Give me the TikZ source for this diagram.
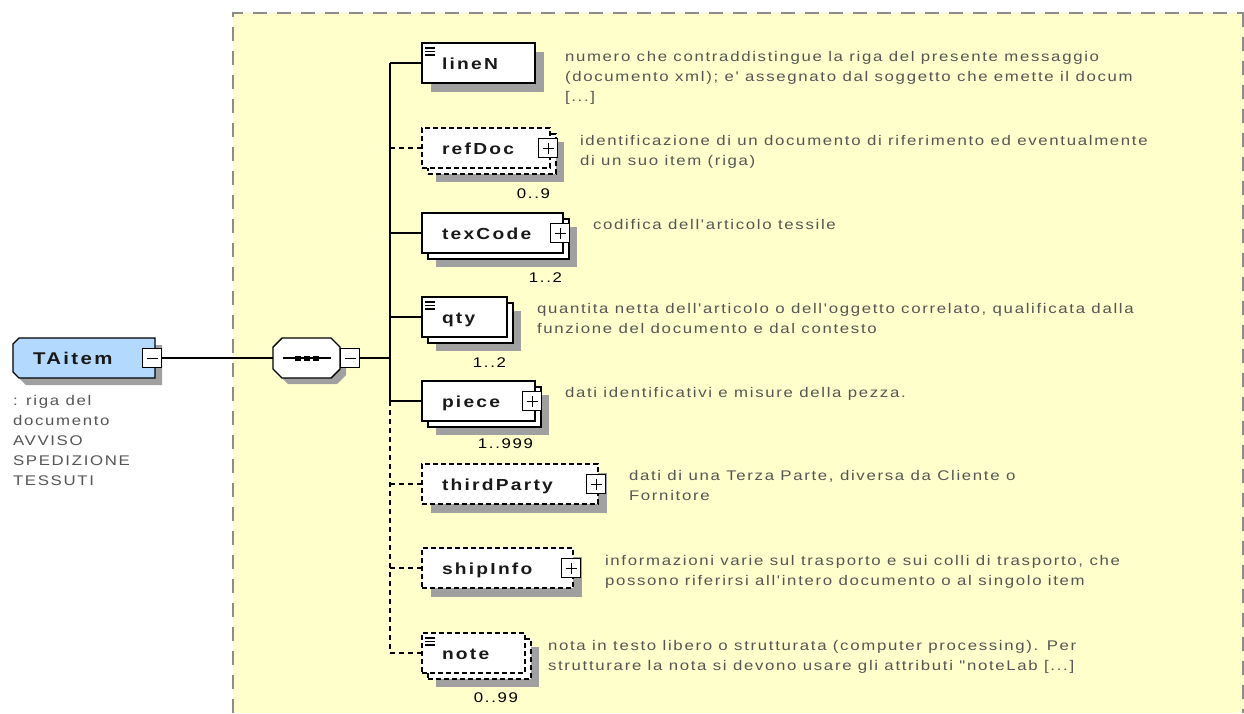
\documentclass[tikz,border=0pt]{standalone}
\usepackage{fontspec}
\setmainfont{Liberation Sans}
\newfontfamily\descfont[FakeStretch=1.2,LetterSpace=12]{Liberation Sans}
\newfontfamily\lblfont[FakeStretch=1.2,LetterSpace=14]{Liberation Sans}
\usetikzlibrary{calc}
\definecolor{bgyellow}{HTML}{FFFFCC}
\definecolor{shadowc}{HTML}{A0A0A0}
\definecolor{desccol}{HTML}{555555}
\definecolor{bordergray}{HTML}{8C8C8C}
\definecolor{typeblue}{HTML}{B3D9FF}
\newcommand\docicon[1]{\draw[line width=1.5pt] ($(#1.north west)+(3,5)$) -- ++(10,0) ($(#1.north west)+(3,8.5)$) -- ++(10,0) ($(#1.north west)+(3,12)$) -- ++(10,0);}
\newcommand\plusbox[2]{\node[pm] (#1) at (#2) {};
  \draw[line width=1pt] ($(#1.west)+(4,0)$) -- ($(#1.east)+(-4,0)$) ($(#1.north)+(0,4)$) -- ($(#1.south)+(0,-4)$);}
\newcommand\minusbox[2]{\node[pm] (#1) at (#2) {};
  \draw[line width=1pt] ($(#1.west)+(4,0)$) -- ($(#1.east)+(-4,0)$);}
\begin{document}
\begin{tikzpicture}[x=1pt,y=-1pt,
  every node/.style={inner sep=0pt,outer sep=0pt},
  ebox/.style={draw=black,line width=1.4pt,fill=white,rectangle,minimum height=40pt,anchor=north west},
  optbox/.style={ebox,dash pattern=on 5pt off 3pt},
  shade/.style={fill=shadowc},
  conn/.style={draw=black,line width=1.4pt},
  optconn/.style={conn,dash pattern=on 5pt off 4pt},
  pm/.style={draw=black,line width=1pt,fill=white,rectangle,minimum size=19pt},
  lbl/.style={font=\lblfont\bfseries\fontsize{16}{18}\selectfont,text=black!90,anchor=base west},
  desc/.style={font=\descfont\fontsize{14}{20}\selectfont,text=desccol,align=left,anchor=north west,execute at begin node=\rule{0pt}{11pt}},
  mult/.style={font=\descfont\fontsize{14}{16}\selectfont,text=black,anchor=base east}]
\useasboundingbox (0,0) rectangle (1244,713);
\fill[white] (0,0) rectangle (1244,713);
% model group background
\fill[bgyellow] (233,13) rectangle (1244,713);
\draw[bordergray,line width=2pt,dash pattern=on 14pt off 10pt] (233,713) -- (233,13) -- (1244,13);
\draw[bordergray,line width=2pt,dash pattern=on 14pt off 10pt] (1243,13) -- (1243,713);

% TAitem
\fill[shadowc] (19+7,338+7) -- (155+7,338+7) -- (155+7,378+7) -- (19+7,378+7) -- (13+7,372+7) -- (13+7,344+7) -- cycle;
\draw[line width=1.4pt,fill=typeblue] (19,338) -- (155,338) -- (155,378) -- (19,378) -- (13,372) -- (13,344) -- cycle;
\node[lbl,font=\lblfont\bfseries\fontsize{17}{18}\selectfont] (TAitem) at (33,364) {TAitem};
\minusbox{TAm}{152,358}
\node[desc] (TAdesc) at (13,395) {: riga del\\documento\\AVVISO\\SPEDIZIONE\\TESSUTI};

% sequence compositor
\fill[shadowc] (282+6,338+6) -- (331+6,338+6) -- (340+6,347+6) -- (340+6,369+6) -- (331+6,378+6) -- (282+6,378+6) -- (273+6,369+6) -- (273+6,347+6) -- cycle;
\draw[line width=1.4pt,fill=white] (282,338) -- (331,338) -- (340,347) -- (340,369) -- (331,378) -- (282,378) -- (273,369) -- (273,347) -- cycle;
\node[minimum width=67pt,minimum height=40pt] (seq) at (306.5,358) {};
\draw[line width=1.2pt] (283,358) -- (331,358);
\fill (295,355.5) rectangle ++(6,5);
\fill (304,355.5) rectangle ++(6,5);
\fill (313,355.5) rectangle ++(6,5);
\minusbox{seqm}{350,358}
\coordinate (sp) at (390,358);

% lineN
\fill[shade] (431,52) rectangle ++(113,40);
\node[ebox,minimum width=113pt] (lineN) at (422,43) {};
\docicon{lineN}
\node[lbl] at (442,69) {lineN};
\node[desc] at (565,51) {numero che contraddistingue la riga del presente messaggio\\(documento xml); e' assegnato dal soggetto che emette il docum\\{[...]}};

% refDoc
\fill[shade] (436,142) rectangle ++(128,40);
\node[optbox,minimum width=128pt] (refDocB) at (428,134) {};
\node[optbox,minimum width=128pt] (refDoc) at (422,128) {};
\node[lbl] at (442,154) {refDoc};
\plusbox{refDocP}{548,148}
\node[mult] at (550,198) {0..9};
\node[desc] at (580,135) {identificazione di un documento di riferimento ed eventualmente\\di un suo item (riga)};

% texCode
\fill[shade] (436,227) rectangle ++(141,40);
\node[ebox,minimum width=141pt] (texCodeB) at (428,219) {};
\node[ebox,minimum width=141pt] (texCode) at (422,213) {};
\node[lbl] at (442,239) {texCode};
\plusbox{texCodeP}{560,233}
\node[mult] at (562,282) {1..2};
\node[desc] at (593,218) {codifica dell'articolo tessile};

% qty
\fill[shade] (436,311) rectangle ++(85,40);
\node[ebox,minimum width=85pt] (qtyB) at (428,303) {};
\node[ebox,minimum width=85pt] (qty) at (422,297) {};
\docicon{qty}
\node[lbl] at (442,323) {qty};
\node[mult] at (506,367) {1..2};
\node[desc] at (537,303) {quantita netta dell'articolo o dell'oggetto correlato, qualificata dalla\\funzione del documento e dal contesto};

% piece
\fill[shade] (436,395) rectangle ++(113,40);
\node[ebox,minimum width=113pt] (pieceB) at (428,387) {};
\node[ebox,minimum width=113pt] (piece) at (422,381) {};
\node[lbl] at (442,407) {piece};
\plusbox{pieceP}{532,401}
\node[mult] at (533,448) {1..999};
\node[desc] at (565,386) {dati identificativi e misure della pezza.};

% thirdParty
\fill[shade] (431,473) rectangle ++(176,40);
\node[optbox,minimum width=176pt] (thirdParty) at (422,464) {};
\node[lbl] at (442,490) {thirdParty};
\plusbox{thirdPartyP}{596,484}
\node[desc] at (629,470) {dati di una Terza Parte, diversa da Cliente o\\Fornitore};

% shipInfo
\fill[shade] (431,557) rectangle ++(151,40);
\node[optbox,minimum width=151pt] (shipInfo) at (422,548) {};
\node[lbl] at (442,574) {shipInfo};
\plusbox{shipInfoP}{571,568}
\node[desc] at (605,555) {informazioni varie sul trasporto e sui colli di trasporto, che\\possono riferirsi all'intero documento o al singolo item};

% note
\fill[shade] (436,647) rectangle ++(103,40);
\node[optbox,minimum width=103pt] (noteB) at (428,639) {};
\node[optbox,minimum width=103pt] (note) at (422,633) {};
\docicon{note}
\node[lbl] at (442,659) {note};
\node[mult] at (518,702) {0..99};
\node[desc] at (548,640) {nota in testo libero o strutturata (computer processing). Per\\strutturare la nota si devono usare gli attributi "noteLab [...]};

% connectors
\draw[conn] (TAm.east) -- (seq.west);
\draw[conn] (seqm.east) -- (sp);
\draw[conn] (sp |- lineN.west) -- (sp |- piece.west);
\draw[optconn] (sp |- piece.west) -- (sp |- note.west);
\draw[conn] (sp |- lineN.west) -- (lineN.west);
\draw[optconn] (sp |- refDoc.west) -- (refDoc.west);
\draw[conn] (sp |- texCode.west) -- (texCode.west);
\draw[conn] (sp |- qty.west) -- (qty.west);
\draw[conn] (sp |- piece.west) -- (piece.west);
\draw[optconn] (sp |- thirdParty.west) -- (thirdParty.west);
\draw[optconn] (sp |- shipInfo.west) -- (shipInfo.west);
\draw[optconn] (sp |- note.west) -- (note.west);
\end{tikzpicture}
\end{document}
